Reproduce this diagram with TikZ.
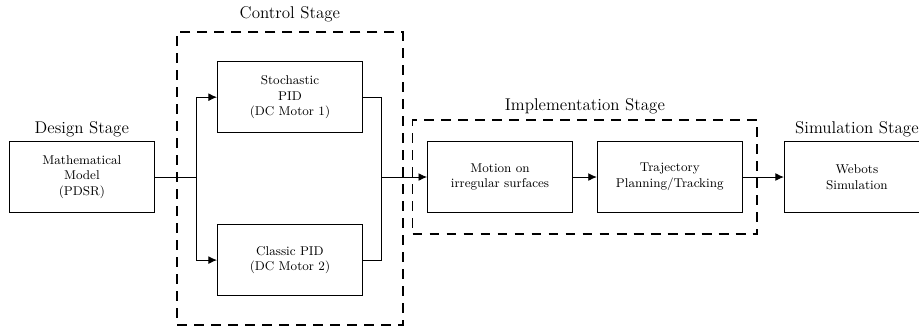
\documentclass[tikz,border=0pt]{standalone}
\usepackage{amsmath,amssymb}
\usepackage{xcolor}
\usepackage{tikz}
\usetikzlibrary{arrows.meta, positioning, fit, calc}

\begin{document}
\begin{tikzpicture}[>={Latex[length=6pt,width=5.5pt]}, auto, line width=0.6pt]
  \tikzstyle{block} = [rectangle, draw, minimum width=3.6cm, minimum height=1.76cm, align=center, font=\small]
  \tikzstyle{stage} = [draw, line width=1.2pt, dash pattern=on 7pt off 5pt]
  \tikzstyle{stagelabel} = [font=\large]

  \useasboundingbox (-2.03,-3.67) rectangle (20.76,4.39);

  \node[block] (Model) at (0,0) {Mathematical\\Model\\(PDSR)};
  \node[block] (StochPID) at (5.16,1.98) {Stochastic\\PID\\(DC Motor 1)};
  \node[block] (ClassicPID) at (5.16,-2.06) {Classic PID\\(DC Motor 2)};
  \node[block] (Motion) at (10.37,0) {Motion on\\irregular surfaces};
  \node[block] (Trajectory) at (14.58,0) {Trajectory\\Planning/Tracking};
  \node[block] (Webots) at (19.22,0) {Webots\\Simulation};

  \coordinate (SplitIn) at (2.83,0);
  \coordinate (JoinOut) at (7.44,0);

  % stage frames
  \node[stage, fit=(StochPID)(ClassicPID), inner xsep=0.99cm, inner ysep=0.72cm] (Control) {};
  \node[stage, fit=(Motion)(Trajectory), inner xsep=0.36cm, inner ysep=0.52cm] (Implementation) {};

  \node[stagelabel, above=-1pt of Model] {Design Stage};
  \node[stagelabel, above=3pt of Control] {Control Stage};
  \node[stagelabel, above=0pt of Implementation] {Implementation Stage};
  \node[stagelabel, above=-1pt of Webots] {Simulation Stage};

  % connectors
  \draw (Model) -- (SplitIn);
  \draw[->] (SplitIn) |- (StochPID);
  \draw[->] (SplitIn) |- (ClassicPID);
  \draw (StochPID) -| (JoinOut);
  \draw (ClassicPID) -| (JoinOut);
  \draw[->] (JoinOut) -- (Motion);
  \path[->]
    (Motion) edge (Trajectory)
    (Trajectory) edge (Webots);
\end{tikzpicture}
\end{document}
